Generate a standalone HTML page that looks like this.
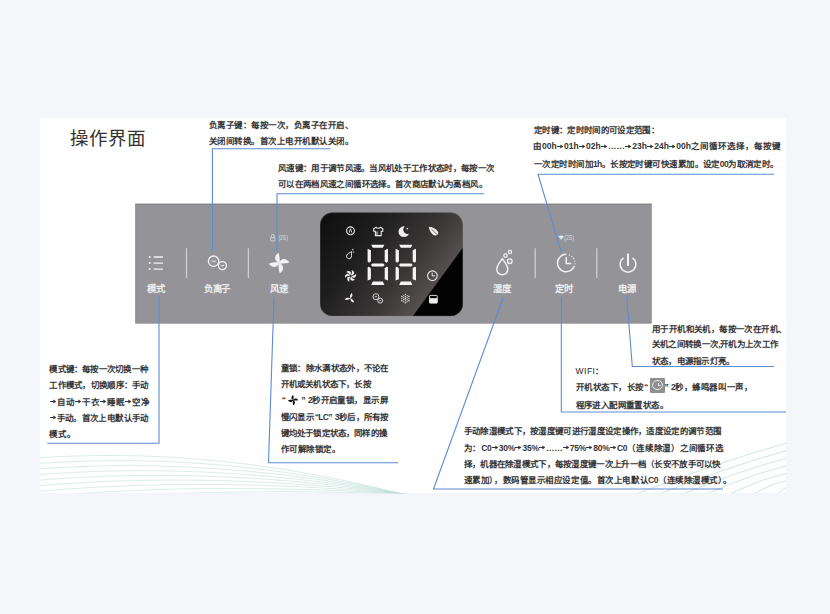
<!DOCTYPE html>
<html lang="zh-CN"><head><meta charset="utf-8">
<style>
*{margin:0;padding:0;box-sizing:border-box}
html,body{width:830px;height:614px;overflow:hidden;background:#f4f6fa;font-family:"Liberation Sans",sans-serif}
#white{position:absolute;left:40px;top:118px;width:746px;height:375px;background:#fff}
.t{position:absolute;font-size:8.5px;line-height:12px;height:12px;color:#353535;white-space:nowrap;font-weight:bold;text-align:justify;text-align-last:justify}
.ar{display:inline-block;width:6.5px;height:5px;margin:0 0.5px 0 0.3px;vertical-align:0.5px}
.t i{display:inline-block;vertical-align:middle}
.lq{margin-left:2.6px}.rq{margin-right:3px}
.t i.ic1{width:14.5px;height:1px;margin:0 0 0 2.3px;position:relative;vertical-align:baseline}
.ic1:before{content:'';position:absolute;left:0;top:-11.4px;width:14.5px;height:15.6px;background:#8f8f92;border-radius:1px}
.ic1:after{content:'';position:absolute;left:2.4px;top:-9px;width:8.2px;height:8.2px;border:1.1px solid #e8e8e8;border-radius:50%;background:linear-gradient(#e8e8e8,#e8e8e8) 4.1px 1.6px/1px 3.4px no-repeat,linear-gradient(#e8e8e8,#e8e8e8) 4.1px 4.1px/2.6px 1px no-repeat}
.t .ic2{display:inline-block;width:10.4px;height:10.4px;margin:0 3.2px 0 2.2px;vertical-align:-1.8px}
#title{position:absolute;left:70px;top:124px;font-family:"Liberation Serif",serif;font-size:18.5px;color:#333;white-space:nowrap;font-weight:300}
.lb{position:absolute;top:282.5px;font-size:9.4px;line-height:12px;color:#f2f2f2;-webkit-text-stroke:0.3px #f2f2f2;letter-spacing:-0.2px;text-indent:-0.2px;white-space:nowrap;transform:translateX(-50%)}
.sep{position:absolute;top:248px;width:1px;height:30px;background:#c8c8ca}
svg.ov{position:absolute;left:0;top:0}
</style></head><body>
<div id="white"></div>
<svg class="ov" width="830" height="614" viewBox="0 0 830 614">
<defs><clipPath id="wc"><rect x="40" y="118" width="746" height="375.3"/></clipPath></defs>
<g clip-path="url(#wc)" fill="none" stroke="#b9ddd3" stroke-width="0.7" opacity="0.75">
<path d="M40 457.7C130 452.0 250 455.0 402.0 494M40 463.3C130 457.2 250 459.2 402.3 494M40 468.9C130 462.4 250 463.4 402.6 494M40 474.5C130 467.6 250 467.6 402.9 494M40 480.1C130 472.8 250 471.8 403.2 494M40 485.7C130 478.0 250 476.0 403.5 494M40 491.3C130 483.2 250 480.2 403.8 494M40 496.9C130 488.4 250 484.4 404.1 494M40 502.5C130 493.6 250 488.6 404.4 494M40 508.1C130 498.8 250 492.8 404.7 494M40 513.7C130 504.0 250 497.0 405.0 494M40 519.3C130 509.2 250 501.2 405.3 494M40 524.9C130 514.4 250 505.4 405.6 494M40 530.5C130 519.6 250 509.6 405.9 494M40 536.1C130 524.8 250 513.8 406.2 494"/>
<path stroke="#a9d3c6" stroke-width="0.75" d="M636.0 494Q717.0 462.5 787 443.0M659.5 494Q728.8 466.3 787 450.6M683.0 494Q740.5 470.1 787 458.2M706.5 494Q752.2 473.9 787 465.8M730.0 494Q764.0 477.7 787 473.4M753.5 494Q775.8 481.5 787 481.0M777.0 494Q787.5 485.3 787 488.6M800.5 494Q799.2 489.1 787 496.2"/>
</g>
</svg>
<div id="title">操作界面</div>
<svg class="ov" width="830" height="614" viewBox="0 0 830 614">
<defs>
<linearGradient id="dg" gradientUnits="userSpaceOnUse" x1="320" y1="212" x2="429.5" y2="293.3">
<stop offset="0" stop-color="#0e0e0e"/><stop offset="0.4" stop-color="#1f1e1e"/><stop offset="0.75" stop-color="#393636"/><stop offset="1" stop-color="#555050"/>
</linearGradient>
<clipPath id="dc0"></clipPath>
<clipPath id="dc"><rect x="320" y="212.6" width="142.9" height="103.6" rx="12.5"/></clipPath>
<mask id="mm"><rect x="395" y="222" width="20" height="20" fill="#fff"/><circle cx="407.6" cy="229.6" r="4.3" fill="#000"/></mask>
<g id="seg"><path d="M0 0L1.3 1.5V12.5L0 14L-1.3 12.5V1.5Z"/></g>
<path id="bl" d="M0.6 0.2C1 -3.5 1 -7.5 0 -10.4C-2.4 -9 -3.9 -6.4 -3.6 -4.2C-3.2 -2 -1.4 -0.6 0.6 0.2Z"/>
</defs>
<rect x="135.7" y="204.1" width="515.5" height="119" fill="#949498" stroke="#8a8a8e" stroke-width="1"/>
<path d="M135.2 204.4H652" stroke="#818286" stroke-width="0.9"/>
<g clip-path="url(#dc)">
<rect x="320" y="212" width="143" height="104" fill="url(#dg)"/>
<path d="M462.9 247.6L412.7 316.2H470V240Z" fill="#030303"/>
<rect x="320" y="212.6" width="142.9" height="103.6" rx="12.5" fill="none" stroke="#6a6868" stroke-width="1" opacity="0.55"/>
</g>
<!-- digits -->
<g fill="#f4f4f4">
<g id="dig">
<path d="M371.2 244.8H384.4L382.8 247.8H372.8Z"/>
<path d="M367.6 248.8L370.9 250.2V261.2L369.2 262.8L367.6 261.4Z"/>
<path d="M388 248.8L384.7 250.2V261.2L386.4 262.8L388 261.4Z"/>
<path d="M372.2 263.4H383.4L384.6 264.9L383.4 266.4H372.2L371 264.9Z"/>
<path d="M367.6 267.2L369.2 266.8L370.9 268.4V279.2L367.6 280.6Z"/>
<path d="M388 267.2L386.4 266.8L384.7 268.4V279.2L388 280.6Z"/>
<path d="M372.8 281.4H382.8L384.4 285H371.2Z"/>
</g>
<use href="#dig" x="28"/>
</g>
<!-- display icons -->
<g fill="none" stroke="#eaeaea" stroke-width="0.9">
<circle cx="350.5" cy="230.8" r="3.9" stroke-width="1.15"/>
<path d="M349.1 232.6L350.5 228.7L351.9 232.6" stroke-width="0.9"/>
<path d="M375.6 231.4H378.2V235.4H375.6Z" fill="#8a8a8a" stroke="none"/>
<path d="M376 227.3L373.7 228.7V231.3H375.4V235.6H381.2V231.3H382.8V228.7L380.5 227.3C379.6 228.5 376.9 228.5 376 227.3Z" stroke-width="1.1"/>
<circle cx="432.4" cy="275.7" r="4.8" stroke-width="1.1"/>
<path d="M432.2 272.6V275.9H435" stroke-width="1"/>
<path d="M351.8 251.6C351.2 253.2 351.7 254.4 351.5 255.7A2.5 2.5 0 1 1 346.8 255.1C347.4 253.6 349.8 252.6 351.8 251.6Z" stroke-width="1"/>
<circle cx="375.9" cy="296.7" r="3"/><circle cx="380.2" cy="300.6" r="2.5"/>
<path d="M374.6 296.7H377.2M379.2 300.6H381.2" stroke-width="0.8"/>
</g>
<g fill="#eeeeee">
<g fill="#ececec"><circle cx="405.40" cy="296.60" r="0.7"/><circle cx="405.40" cy="294.50" r="0.75"/><circle cx="403.65" cy="295.57" r="0.6"/><circle cx="403.67" cy="297.60" r="0.7"/><circle cx="401.85" cy="296.55" r="0.75"/><circle cx="401.90" cy="298.60" r="0.6"/><circle cx="403.67" cy="299.60" r="0.7"/><circle cx="401.85" cy="300.65" r="0.75"/><circle cx="403.65" cy="301.63" r="0.6"/><circle cx="405.40" cy="300.60" r="0.7"/><circle cx="405.40" cy="302.70" r="0.75"/><circle cx="407.15" cy="301.63" r="0.6"/><circle cx="407.13" cy="299.60" r="0.7"/><circle cx="408.95" cy="300.65" r="0.75"/><circle cx="408.90" cy="298.60" r="0.6"/><circle cx="407.13" cy="297.60" r="0.7"/><circle cx="408.95" cy="296.55" r="0.75"/><circle cx="407.15" cy="295.57" r="0.6"/><circle cx="405.4" cy="298.6" r="0.8"/></g>
<circle cx="352.8" cy="249.4" r="0.75"/><circle cx="353.7" cy="252.1" r="0.65"/>
<circle cx="403.9" cy="231.7" r="5.4" mask="url(#mm)"/>
<circle cx="407.3" cy="228.6" r="0.9"/>
<path d="M428.8 226.8C432.6 227 437 229 438.2 232.6C438.4 235 436 236 433.8 235.2C431.2 234 429.4 230.6 428.8 226.8Z"/>
<rect x="429.6" y="295.4" width="7.6" height="7.6" fill="none" stroke="#eeeeee" stroke-width="0.9" rx="0.6"/>
<rect x="429.4" y="298.2" width="8" height="5"/>
<g transform="translate(350.6 275.9)">
<path id="pw" d="M0 -0.8C1.4 -2.2 1.8 -4 0.9 -5.8C2.8 -5.4 3.9 -3.6 3.4 -1.8C2.6 -0.9 1.3 -0.6 0 -0.8Z"/>
<use href="#pw" transform="rotate(60)"/><use href="#pw" transform="rotate(120)"/><use href="#pw" transform="rotate(180)"/><use href="#pw" transform="rotate(240)"/><use href="#pw" transform="rotate(300)"/>
</g>
<g transform="translate(350.2 298.3)">
<path id="tb" d="M0 0C-0.6 -1.6 -0.2 -3.4 1.4 -5.4C2.6 -4.4 2.4 -2.6 1.4 -1.4C0.9 -0.8 0.5 -0.3 0 0Z"/><use href="#tb" transform="rotate(120)"/><use href="#tb" transform="rotate(240)"/>
</g>
</g>
<path d="M431.6 229.6C433.4 230.8 435.2 232.4 436.6 234.4" stroke="#1a1a1a" stroke-width="0.6" fill="none"/>
<!-- panel separators -->
<g stroke="#cfcfd2" stroke-width="1.25">
<path d="M186.5 248.2V278M248.4 248.2V278M535.2 248.2V278M596.8 248.2V278"/>
</g>
<!-- panel icons -->
<g fill="none" stroke="#f2f2f2" stroke-width="1.2">
<path d="M153.6 257H162.9M153.6 263.1H162.9M153.6 269.1H162.9" stroke-width="1.4"/>
<circle cx="213.6" cy="261.2" r="5.2" stroke-width="1.3"/>
<circle cx="222.4" cy="265.6" r="4" stroke-width="1.3"/>
<path d="M211.4 261.2H215.8M220.8 265.6H224" stroke-width="0.9"/>
<path d="M502.3 258.6C500.5 261.6 496.8 265 496.8 269.3A5.5 5.5 0 0 0 507.8 269.3C507.8 265 504.1 261.6 502.3 258.6Z" stroke-width="1.5"/>
<circle cx="505.5" cy="255.6" r="1.7" stroke-width="1.2"/>
<circle cx="510" cy="252" r="1.6" stroke-width="1.2"/>
<circle cx="509.8" cy="261.2" r="2.3" stroke-width="1.3"/>
<path d="M566.3 254.3A8.7 8.7 0 1 0 574.4 266" stroke-width="1.5"/>
<path d="M566.3 257V263.6H571.2" stroke-width="1.5"/>
<path d="M623.5 257.8A7.9 7.9 0 1 0 632.5 257.8" stroke-width="1.6"/>
<path d="M628 253.6V266" stroke-width="2"/>
</g>
<g fill="#f2f2f2">
<circle cx="149.7" cy="257" r="1"/><circle cx="149.7" cy="263.1" r="1"/><circle cx="149.7" cy="269.1" r="1"/>
<circle cx="569.4" cy="254.9" r="0.65"/><circle cx="571.9" cy="256.3" r="0.65"/><circle cx="573.7" cy="258.5" r="0.65"/><circle cx="574.7" cy="261.1" r="0.65"/><circle cx="574.9" cy="263.8" r="0.65"/>
<g transform="translate(279.1 263)">
<use href="#bl" transform="rotate(-4)"/><use href="#bl" transform="rotate(86)"/><use href="#bl" transform="rotate(176)"/><use href="#bl" transform="rotate(266)"/>
</g>
</g>
<g fill="none" stroke="#dedede" stroke-width="0.8">
<path d="M271.2 237.4V236.2A1.6 1.6 0 0 1 274.4 236.2V237.4"/>
<rect x="270.7" y="237.6" width="4.2" height="3.4" rx="0.4"/>
</g>
<g fill="#e2e2e2">
<path d="M558.2 236.6C559.8 235 562.4 235 564 236.6L561.1 239.8Z"/>
</g>
<g font-family="Liberation Sans,sans-serif" font-size="7" fill="#dcdcdc">
<text x="278.4" y="240" textLength="9.4" lengthAdjust="spacingAndGlyphs">(2S)</text>
<text x="564.3" y="240" textLength="9.6" lengthAdjust="spacingAndGlyphs">(2S)</text>
</g>
</svg>
<div class="lb" style="left:156px">模式</div>
<div class="lb" style="left:217px">负离子</div>
<div class="lb" style="left:279px">风速</div>
<div class="lb" style="left:502px">湿度</div>
<div class="lb" style="left:564px">定时</div>
<div class="lb" style="left:627px">电源</div>
<div class="t" id="a1" style="left:209.00px;top:118.50px;letter-spacing:-0.507px;width:144.41px">负离子键：每按一次，负离子在开启、</div>
<div class="t" id="a2" style="left:209.00px;top:135.40px;letter-spacing:-0.507px;width:144.41px">关闭间转换。首次上电开机默认关闭。</div>
<div class="t" id="b1" style="left:277.90px;top:162.40px;letter-spacing:-0.674px;width:216.50px">风速键：用于调节风速。当风机处于工作状态时，每按一次</div>
<div class="t" id="b2" style="left:277.90px;top:177.80px;letter-spacing:-0.639px;width:209.05px">可以在两档风速之间循环选择。首次商店默认为高档风。</div>
<div class="t" id="c1" style="left:533.90px;top:124.10px;letter-spacing:-0.658px;width:125.16px">定时键：定时时间的可设定范围：</div>
<div class="t" id="c2" style="left:532.90px;top:140.00px;letter-spacing:0.024px;width:248.46px">由00h<svg class="ar" viewBox="0 0 6.5 5"><path d="M0 2.5H4" stroke="#353535" stroke-width="1"/><path d="M3.3 0.6L6.5 2.5L3.3 4.4Z" fill="#353535"/></svg>01h<svg class="ar" viewBox="0 0 6.5 5"><path d="M0 2.5H4" stroke="#353535" stroke-width="1"/><path d="M3.3 0.6L6.5 2.5L3.3 4.4Z" fill="#353535"/></svg>02h<svg class="ar" viewBox="0 0 6.5 5"><path d="M0 2.5H4" stroke="#353535" stroke-width="1"/><path d="M3.3 0.6L6.5 2.5L3.3 4.4Z" fill="#353535"/></svg>……<svg class="ar" viewBox="0 0 6.5 5"><path d="M0 2.5H4" stroke="#353535" stroke-width="1"/><path d="M3.3 0.6L6.5 2.5L3.3 4.4Z" fill="#353535"/></svg>23h<svg class="ar" viewBox="0 0 6.5 5"><path d="M0 2.5H4" stroke="#353535" stroke-width="1"/><path d="M3.3 0.6L6.5 2.5L3.3 4.4Z" fill="#353535"/></svg>24h<svg class="ar" viewBox="0 0 6.5 5"><path d="M0 2.5H4" stroke="#353535" stroke-width="1"/><path d="M3.3 0.6L6.5 2.5L3.3 4.4Z" fill="#353535"/></svg>00h之间循环选择，每按键</div>
<div class="t" id="c3" style="left:533.90px;top:157.90px;letter-spacing:-0.564px;width:244.91px">一次定时时间加1h。长按定时键可快速累加。设定00为取消定时。</div>
<div class="t" id="d1" style="left:651.80px;top:322.70px;letter-spacing:-0.575px;width:134.83px">用于开机和关机，每按一次在开机、</div>
<div class="t" id="d2" style="left:651.80px;top:338.00px;letter-spacing:-0.682px;width:126.47px">关机之间转换一次,开机为上次工作</div>
<div class="t" id="d3" style="left:651.80px;top:354.50px;letter-spacing:-0.731px;width:82.72px">状态，电源指示灯亮。</div>
<div class="t" id="e1" style="left:575.50px;top:365.00px;letter-spacing:0.500px;width:29.47px"><span style="font-weight:normal;color:#222">WIFI</span>：</div>
<div class="t" id="e2" style="left:575.50px;top:381.10px;letter-spacing:-0.450px;width:176.66px">开机状态下，长按“<i class="ic1"></i><span style="margin-right:2.6px">”</span>2秒，蜂鸣器叫一声，</div>
<div class="t" id="e3" style="left:575.50px;top:398.90px;letter-spacing:-0.590px;width:92.54px">程序进入配网重置状态。</div>
<div class="t" id="f1" style="left:49.40px;top:363.20px;letter-spacing:-0.788px;width:98.57px">模式键：每按一次切换一种</div>
<div class="t" id="f2" style="left:49.40px;top:379.10px;letter-spacing:-0.733px;width:99.24px">工作模式，切换顺序：手动</div>
<div class="t" id="f3" style="left:49.40px;top:395.90px;letter-spacing:-0.061px;width:100.77px"><svg class="ar" viewBox="0 0 6.5 5"><path d="M0 2.5H4" stroke="#353535" stroke-width="1"/><path d="M3.3 0.6L6.5 2.5L3.3 4.4Z" fill="#353535"/></svg>自动<svg class="ar" viewBox="0 0 6.5 5"><path d="M0 2.5H4" stroke="#353535" stroke-width="1"/><path d="M3.3 0.6L6.5 2.5L3.3 4.4Z" fill="#353535"/></svg>干衣<svg class="ar" viewBox="0 0 6.5 5"><path d="M0 2.5H4" stroke="#353535" stroke-width="1"/><path d="M3.3 0.6L6.5 2.5L3.3 4.4Z" fill="#353535"/></svg>睡眠<svg class="ar" viewBox="0 0 6.5 5"><path d="M0 2.5H4" stroke="#353535" stroke-width="1"/><path d="M3.3 0.6L6.5 2.5L3.3 4.4Z" fill="#353535"/></svg>空净</div>
<div class="t" id="f4" style="left:49.40px;top:411.80px;letter-spacing:-0.642px;width:99.27px"><svg class="ar" viewBox="0 0 6.5 5"><path d="M0 2.5H4" stroke="#353535" stroke-width="1"/><path d="M3.3 0.6L6.5 2.5L3.3 4.4Z" fill="#353535"/></svg>手动。首次上电默认手动</div>
<div class="t" id="f5" style="left:49.40px;top:428.00px;letter-spacing:-0.250px;width:26.27px">模式。</div>
<div class="t" id="g1" style="left:280.60px;top:362.10px;letter-spacing:-0.678px;width:108.21px">童锁：除水满状态外，不论在</div>
<div class="t" id="g2" style="left:280.60px;top:377.50px;letter-spacing:-0.810px;width:90.11px">开机或关机状态下，长按</div>
<div class="t" id="g3" style="left:281.70px;top:394.40px;letter-spacing:-0.533px;width:106.63px">“<svg class="ic2" viewBox="-5.2 -5.2 10.4 10.4"><g fill="#111" transform="scale(0.5)"><path id="fb" d="M0.6 0.2C1 -3.5 1 -7.5 0 -10.4C-2.4 -9 -3.9 -6.4 -3.6 -4.2C-3.2 -2 -1.4 -0.6 0.6 0.2Z"/><use href="#fb" transform="rotate(90)"/><use href="#fb" transform="rotate(180)"/><use href="#fb" transform="rotate(270)"/></g></svg><span class="rq">”</span>2秒开启童锁，显示屏</div>
<div class="t" id="g4" style="left:280.60px;top:410.80px;letter-spacing:-0.679px;width:108.24px">慢闪显示<span style="margin-left:0.8px">“</span>LC<span class="rq">”</span>3秒后，所有按</div>
<div class="t" id="g5" style="left:280.60px;top:426.70px;letter-spacing:-0.813px;width:106.46px">键均处于锁定状态，同样的操</div>
<div class="t" id="g6" style="left:280.60px;top:442.60px;letter-spacing:-0.448px;width:59.90px">作可解除锁定。</div>
<div class="t" id="h1" style="left:463.70px;top:425.20px;letter-spacing:-0.694px;width:257.52px">手动除湿模式下，按湿度键可进行湿度设定操作，适度设定的调节范围</div>
<div class="t" id="h2" style="left:463.70px;top:441.70px;letter-spacing:-0.250px;width:259.86px">为：C0<svg class="ar" viewBox="0 0 6.5 5"><path d="M0 2.5H4" stroke="#353535" stroke-width="1"/><path d="M3.3 0.6L6.5 2.5L3.3 4.4Z" fill="#353535"/></svg>30%<svg class="ar" viewBox="0 0 6.5 5"><path d="M0 2.5H4" stroke="#353535" stroke-width="1"/><path d="M3.3 0.6L6.5 2.5L3.3 4.4Z" fill="#353535"/></svg>35%<svg class="ar" viewBox="0 0 6.5 5"><path d="M0 2.5H4" stroke="#353535" stroke-width="1"/><path d="M3.3 0.6L6.5 2.5L3.3 4.4Z" fill="#353535"/></svg>……<svg class="ar" viewBox="0 0 6.5 5"><path d="M0 2.5H4" stroke="#353535" stroke-width="1"/><path d="M3.3 0.6L6.5 2.5L3.3 4.4Z" fill="#353535"/></svg>75%<svg class="ar" viewBox="0 0 6.5 5"><path d="M0 2.5H4" stroke="#353535" stroke-width="1"/><path d="M3.3 0.6L6.5 2.5L3.3 4.4Z" fill="#353535"/></svg>80%<svg class="ar" viewBox="0 0 6.5 5"><path d="M0 2.5H4" stroke="#353535" stroke-width="1"/><path d="M3.3 0.6L6.5 2.5L3.3 4.4Z" fill="#353535"/></svg>C0（连续除湿）之间循环选</div>
<div class="t" id="h3" style="left:463.70px;top:458.20px;letter-spacing:-0.708px;width:257.08px">择，机器在除湿模式下，每按湿度键一次上升一档（长安不放手可以快</div>
<div class="t" id="h4" style="left:463.70px;top:474.30px;letter-spacing:-0.438px;width:267.44px">速累加），数码管显示相应设定值。首次上电默认C0（连续除湿模式）。</div>
<svg class="ov" width="830" height="614" viewBox="0 0 830 614">
<g fill="none" stroke="#5b8cd2" stroke-width="1.1">
<polyline points="330.6,148.8 212.4,148.8 212.4,251"/>
<polyline points="484,193.7 277,193.7 277,251"/>
<polyline points="774,174.2 538,174.2 561.2,251.8"/>
<polyline points="159,296 159,443.3 47.3,443.3"/>
<polyline points="274,297 268.5,462.7 398,462.7"/>
<polyline points="503.4,297 433.5,489 723,489"/>
<polyline points="561.3,297 561.3,412 786,412"/>
<polyline points="626.7,296 632.3,366.5 774,366.5"/>
</g>
</svg>
</body></html>
